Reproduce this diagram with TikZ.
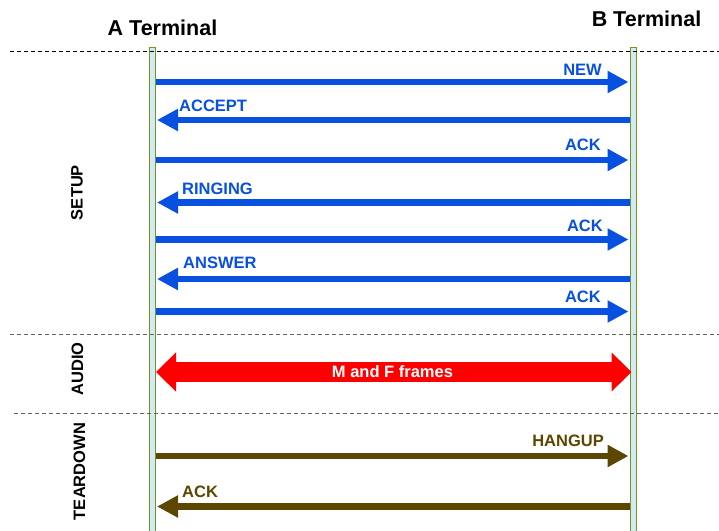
\documentclass[tikz,border=0pt]{standalone}
\usepackage{fontspec}
\setmainfont{Liberation Sans}
\usetikzlibrary{arrows.meta}
\definecolor{msgblue}{RGB}{8,80,224}
\definecolor{msgred}{RGB}{255,0,0}
\definecolor{msgbrown}{RGB}{92,70,0}
\definecolor{lifefill}{RGB}{208,234,248}
\definecolor{lifeline}{RGB}{120,150,20}
\definecolor{sepgray}{RGB}{100,100,100}
\tikzset{
  lifebar/.style={fill=lifefill, draw=lifeline, line width=0.8pt},
  sepline/.style={dashed, dash pattern=on 4pt off 3pt, line width=1pt},
  msg/.style={line width=6.5pt, -{Triangle[length=21pt,width=21pt]}},
  bluemsg/.style={msg, draw=msgblue, color=msgblue},
  brownmsg/.style={msg, draw=msgbrown, color=msgbrown},
  audiomsg/.style={line width=20pt, draw=msgred, color=msgred,
    {Triangle[length=20pt,width=38pt]}-{Triangle[length=20pt,width=38pt]}},
  msglabel/.style={font=\bfseries\fontsize{16.5}{18}\selectfont, inner sep=0pt},
  phase/.style={font=\bfseries\fontsize{16.5}{18}\selectfont, inner sep=0pt, rotate=90},
  terminal/.style={font=\bfseries\fontsize{21.5}{24}\selectfont, inner sep=0pt, anchor=base},
}
\begin{document}
\begin{tikzpicture}[x=1pt, y=-1pt]
\useasboundingbox (0,0) rectangle (719,530);

% terminals
\node[terminal] (tA) at (162.5,35) {A Terminal};
\node[terminal] (tB) at (646.5,26) {B Terminal};

% lifelines
\begin{scope}
\clip (0,0) rectangle (719,530);
\draw[lifebar] (149,47) rectangle (155.5,540);
\draw[lifebar] (630,47) rectangle (636.5,540);
\end{scope}

% phase separators
\coordinate (s1l) at (10,51);  \coordinate (s1r) at (719,51);
\coordinate (s2l) at (10,334.5); \coordinate (s2r) at (719,334.5);
\coordinate (s3l) at (14,413.5); \coordinate (s3r) at (719,413.5);
\draw[sepline, black] (s1l) -- (s1r);
\draw[sepline, sepgray] (s2l) -- (s2r);
\draw[sepline, sepgray] (s3l) -- (s3r);

% phase names
\node[phase] (pSetup) at (77,192.5) {SETUP};
\node[phase] (pAudio) at (77.5,369) {AUDIO};
\node[phase] (pTear) at (79.5,471.5) {TEARDOWN};

% message end points on the two lifelines
\foreach \n/\y in {1/82, 2/120, 3/160, 4/202.5, 5/239.5, 6/279, 7/311.5, 9/456, 10/506.5}{
  \coordinate (a\n) at (155.5,\y);
  \coordinate (at\n) at (157,\y);
  \coordinate (b\n) at (629.5,\y);
  \coordinate (bt\n) at (628.5,\y);
}
\coordinate (a8) at (156,372);
\coordinate (b8) at (631.5,372);

% setup
\draw[bluemsg] (a1) -- (bt1);
\draw[bluemsg] (b2) -- (at2);
\draw[bluemsg] (a3) -- (bt3);
\draw[bluemsg] (b4) -- (at4);
\draw[bluemsg] (a5) -- (bt5);
\draw[bluemsg] (b6) -- (at6);
\draw[bluemsg] (a7) -- (bt7);

\node[msglabel, text=msgblue, anchor=base east] (l1) at (602,75) {NEW};
\node[msglabel, text=msgblue, anchor=base west] (l2) at (179,111) {ACCEPT};
\node[msglabel, text=msgblue, anchor=base east] (l3) at (601,150) {ACK};
\node[msglabel, text=msgblue, anchor=base west] (l4) at (182,194) {RINGING};
\node[msglabel, text=msgblue, anchor=base east] (l5) at (603,231) {ACK};
\node[msglabel, text=msgblue, anchor=base west] (l6) at (183,268) {ANSWER};
\node[msglabel, text=msgblue, anchor=base east] (l7) at (601,302) {ACK};

% audio
\draw[audiomsg] (a8) -- (b8);
\node[msglabel, text=white, anchor=base] (l8) at (392.5,377) {M and F frames};

% teardown
\draw[brownmsg] (a9) -- (bt9);
\draw[brownmsg] (b10) -- (at10);
\node[msglabel, text=msgbrown, anchor=base east] (l9) at (604,446) {HANGUP};
\node[msglabel, text=msgbrown, anchor=base west] (l10) at (182,497) {ACK};
\end{tikzpicture}
\end{document}
